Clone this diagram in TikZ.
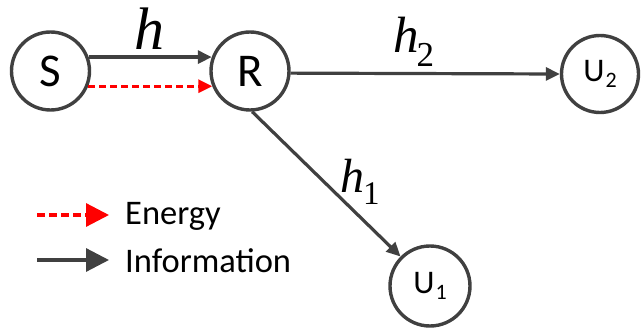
\documentclass[tikz,border=0pt]{standalone}
\usepackage{fontspec}
\setmainfont{Carlito}
\newfontfamily\hfont{Liberation Serif}
\usetikzlibrary{arrows.meta}
\definecolor{ln}{HTML}{404040}
\tikzset{
  nd/.style={circle, draw=ln, line width=3.4pt, minimum size=78pt, inner sep=0pt},
  info/.style={draw=ln, line width=3.2pt, -{Triangle[length=14pt,width=13pt]}},
  energy/.style={draw=red, line width=3.2pt, dash pattern=on 7pt off 4pt, -{Triangle[length=14pt,width=13pt]}},
  lab/.style={inner sep=0pt},
  big/.style={font=\fontsize{47}{50}\selectfont},
  usr/.style={font=\fontsize{33}{35}\selectfont},
  leg/.style={inner sep=0pt, anchor=base west, font=\fontsize{34.5}{36}\selectfont},
}
% #1 h size, #2 subscript size, #3 kern, #4 drop, #5 digit
\newcommand{\hsub}[5]{{\fontsize{#1}{#1}\selectfont\hfont\itshape h}\kern#3\raisebox{-#4}{\fontsize{#2}{#2}\selectfont\hfont #5}}
\newcommand{\usub}[1]{U\kern1pt\raisebox{-6pt}{\fontsize{22}{23}\selectfont #1}}
\begin{document}
\begin{tikzpicture}[x=1pt,y=-1pt]
\useasboundingbox (0,0) rectangle (641,329);
\node[nd, big] (S) at (50.5,71) {S};
\node[nd, big] (R) at (250,71) {R};
\node[nd, usr, minimum size=77pt] (U2) at (600,74) {\usub{2}};
\node[nd, usr, minimum size=80pt] (U1) at (430,286) {\usub{1}};
\draw[info] (S.20) -- (R.160);
\draw[energy] (S.-22) -- (R.202);
\draw[info] (R.-3) -- (U2.west);
\draw[info] (R.-87) -- (U1.135);
\node[lab, anchor=base west, font=\fontsize{60}{62}\selectfont\hfont\itshape] (hl) at (134,50) {h};
\node[lab, anchor=base west] (h2l) at (393,53) {\hsub{51}{35}{-2pt}{14pt}{2}};
\node[lab, anchor=base west] (h1l) at (340,193) {\hsub{48}{33}{-1pt}{12pt}{1}};
\coordinate (e1) at (37,215);
\coordinate (e2) at (109,215);
\coordinate (i1) at (37,260);
\coordinate (i2) at (109,260);
\draw[draw=red, line width=3.2pt, dash pattern=on 8pt off 4pt, -{Triangle[length=23pt,width=23pt]}] (e1) -- (e2);
\draw[draw=ln, line width=3.2pt, -{Triangle[length=23pt,width=23pt]}] (i1) -- (i2);
\node[leg] (et) at (125,225) {Energy};
\node[leg] (it) at (125,272) {Information};
\end{tikzpicture}
\end{document}
